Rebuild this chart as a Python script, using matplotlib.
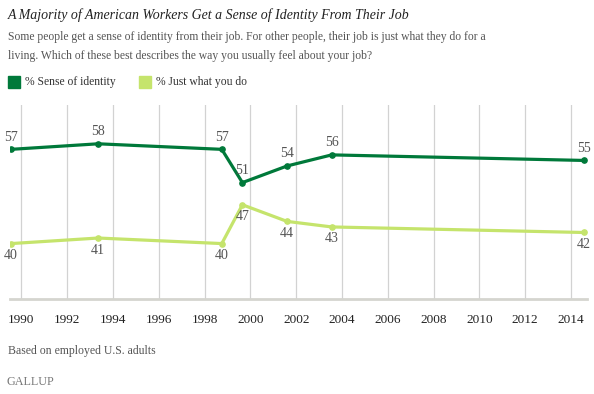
import matplotlib.pyplot as plt
from matplotlib.patches import Rectangle

# Data (survey dates as fractional years)
years = [1989.55, 1993.35, 1998.75, 1999.65, 2001.6, 2003.55, 2014.55]
identity = [57, 58, 57, 51, 54, 56, 55]
just_job = [40, 41, 40, 47, 44, 43, 42]
tick_years = list(range(1990, 2015, 2))

DARK = '#00793a'
LIGHT = '#c5e46c'

plt.rcParams['font.family'] = ['Liberation Serif', 'DejaVu Serif']

fig = plt.figure(figsize=(5.94, 3.94), dpi=100)
W, H = 594, 394
ax = fig.add_axes([10 / W, 1 - 299 / H, 577 / W, (299 - 105) / H])

ax.set_xlim(1989.5, 2014.7)
ax.set_ylim(30, 65)

for yr in tick_years:
    ax.axvline(yr, color='#d2d2d2', lw=0.9, zorder=0)

ax.plot(years, identity, color=DARK, lw=2.3, marker='o', ms=3.8, zorder=3)
ax.plot(years, just_job, color=LIGHT, lw=2.3, marker='o', ms=3.8, zorder=3)

for x, v in zip(years, identity):
    ax.annotate(str(v), (x, v), xytext=(0, 4), textcoords='offset points',
                ha='center', va='bottom', fontsize=10, color='#555555')
for x, v in zip(years, just_job):
    ax.annotate(str(v), (x, v), xytext=(0, -4), textcoords='offset points',
                ha='center', va='top', fontsize=10, color='#555555')

for s in ['top', 'right', 'left']:
    ax.spines[s].set_visible(False)
ax.spines['bottom'].set_color('#d5d5cf')
ax.spines['bottom'].set_linewidth(2)
ax.set_yticks([])
ax.set_xticks(tick_years)
ax.set_xticklabels([str(y) for y in tick_years], fontsize=9.5, color='#222222')
ax.tick_params(axis='x', length=0, pad=11)

# Header text
fig.text(8 / W, 1 - 15 / H, 'A Majority of American Workers Get a Sense of Identity From Their Job',
         fontsize=10, style='italic', color='#222222', va='center')
fig.text(8 / W, 1 - 37 / H,
         'Some people get a sense of identity from their job. For other people, their job is just what they do for a',
         fontsize=8.4, color='#555555', va='center')
fig.text(8 / W, 1 - 56 / H,
         'living. Which of these best describes the way you usually feel about your job?',
         fontsize=8.4, color='#555555', va='center')

# Legend
fig.patches.append(Rectangle((8 / W, 1 - 88 / H), 12 / W, 12 / H, transform=fig.transFigure,
                             color=DARK, figure=fig))
fig.text(25 / W, 1 - 82 / H, '% Sense of identity', fontsize=8.4, color='#333333', va='center')
fig.patches.append(Rectangle((139 / W, 1 - 88 / H), 12 / W, 12 / H, transform=fig.transFigure,
                             color=LIGHT, figure=fig))
fig.text(156 / W, 1 - 82 / H, '% Just what you do', fontsize=8.4, color='#333333', va='center')

# Footer
fig.text(8 / W, 1 - 351 / H, 'Based on employed U.S. adults', fontsize=8.5, color='#555555', va='center')
fig.text(6 / W, 1 - 382 / H, 'GALLUP', fontsize=8.7, color='#777777', va='center')

fig.savefig('out.png', dpi=100)
